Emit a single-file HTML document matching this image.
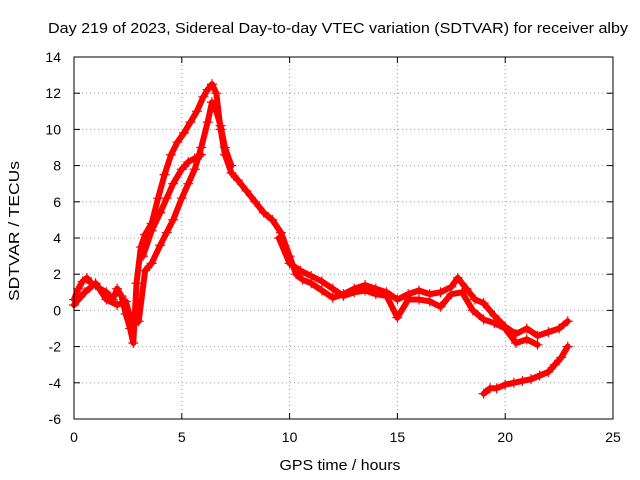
<!DOCTYPE html>
<html><head><meta charset="utf-8"><style>
body{margin:0;background:#fff;}
svg{display:block;font-family:"Liberation Sans",sans-serif;}
</style></head><body>
<svg id="chart" width="640" height="480" viewBox="0 0 640 480">
<rect width="640" height="480" fill="#fff"/>
<text x="338" y="33" font-size="15" text-anchor="middle" textLength="580" lengthAdjust="spacingAndGlyphs">Day 219 of 2023, Sidereal Day-to-day VTEC variation (SDTVAR) for receiver alby</text>
<g id="grid"></g>
<g id="series"></g>
<rect x="74" y="57" width="539" height="362" fill="none" stroke="#000" stroke-width="1"/>
<g id="ticks"></g>
<text x="340" y="470" font-size="15" text-anchor="middle" textLength="121" lengthAdjust="spacingAndGlyphs">GPS time / hours</text>
<text transform="translate(19,231) rotate(-90)" font-size="15" text-anchor="middle" textLength="140" lengthAdjust="spacingAndGlyphs">SDTVAR / TECUs</text>
</svg>
<script>
const xTicks=[0,5,10,15,20,25];
const yTicks=[-6,-4,-2,0,2,4,6,8,10,12,14];
const trackAT=[0,0.2,0.4,0.6,0.8,1,1.2,1.5,1.8,2,2.2,2.4,2.6,2.75,2.9,3.1,3.3,3.6,3.9,4.2,4.5,4.8,5.1,5.4,5.7,6,6.2,6.4,6.6,6.8,7,7.3,7.6,8,8.4,8.8,9.2,9.6,10,10.3,10.6,11,11.5,12,12.5,13,13.5,14,14.5,15,15.5,16,16.5,17,17.5,17.8,18.2,18.6,19,19.5,20,20.5,21,21.5,22,22.5,22.9];
const trackAV=[0.6,1.2,1.6,1.8,1.5,1.4,1.2,1.0,0.6,1.2,0.8,-0.2,-1.0,-1.8,1.5,3.5,4.2,4.8,6.2,7.5,8.6,9.3,9.8,10.4,11.0,11.8,12.2,12.5,12.0,10.0,8.6,7.6,7.2,6.6,6.0,5.4,5.0,4.3,3.0,2.0,1.7,1.5,1.1,0.7,0.9,1.2,1.4,1.2,1.0,0.6,0.9,1.1,0.9,1.0,1.3,1.8,1.2,0.6,0.4,-0.3,-0.9,-1.3,-1.0,-1.4,-1.2,-1.0,-0.6];
const trackBT=[0,0.5,1,1.5,2,2.4,2.7,3,3.3,3.6,4,4.3,4.6,5,5.3,5.6,5.9,6.2,6.4,6.6,6.8,7,7.3];
const trackBV=[0.3,1.0,1.5,0.6,0.3,0.5,-0.8,-0.6,2.2,2.6,3.6,4.3,5.0,6.2,7.0,7.8,9.0,10.4,11.5,11.0,10.2,9.0,8.0];
const trackCT=[3.2,3.6,4,4.3,4.6,5,5.3,5.6,5.9];
const trackCV=[3.0,4.4,5.4,6.2,7.0,7.8,8.2,8.4,8.6];
const trackDT=[9.5,10,10.5,11,11.5,12,12.5,13,13.5,14,14.5,15,15.5,16,16.5,17,17.5,18,18.5,19,19.5,20,20.5,21,21.5];
const trackDV=[4.0,2.6,2.2,1.9,1.6,1.2,0.8,1.0,1.1,0.9,0.8,-0.4,0.6,0.6,0.5,0.2,0.9,1.0,0.0,-0.5,-0.7,-1.0,-1.8,-1.6,-1.9];
const trackET=[19,19.3,19.6,20,20.4,20.8,21.2,21.6,22,22.3,22.6,22.9];
const trackEV=[-4.6,-4.3,-4.3,-4.1,-4.0,-3.9,-3.8,-3.6,-3.4,-3.0,-2.6,-2.0];
const X=v=>74+(v/25)*539, Y=v=>419-((v+6)/20)*362;
const NS="http://www.w3.org/2000/svg";
const grid=document.getElementById('grid'),ticks=document.getElementById('ticks'),ser=document.getElementById('series');
function mk(tag,attrs,parent){const e=document.createElementNS(NS,tag);for(const k in attrs)e.setAttribute(k,attrs[k]);parent.appendChild(e);return e;}
xTicks.forEach(t=>{
 if(t>0&&t<25){const g=mk('line',{x1:X(t),x2:X(t),y1:57,y2:419,stroke:'#a0a0a0','stroke-dasharray':'1,3'},grid);
 
 }
 mk('line',{x1:X(t),x2:X(t),y1:419,y2:413,stroke:'#000'},ticks);
 mk('line',{x1:X(t),x2:X(t),y1:57,y2:63,stroke:'#000'},ticks);
 const l=mk('text',{x:X(t),y:442,'font-size':14,'text-anchor':'middle'},ticks);l.textContent=t;
 
 
});
yTicks.forEach(t=>{
 if(t>-6&&t<14){const g=mk('line',{x1:74,x2:613,y1:Y(t),y2:Y(t),stroke:'#a0a0a0','stroke-dasharray':'1,3'},grid);
 
 }
 mk('line',{x1:74,x2:80,y1:Y(t),y2:Y(t),stroke:'#000'},ticks);
 mk('line',{x1:613,x2:607,y1:Y(t),y2:Y(t),stroke:'#000'},ticks);
 const l=mk('text',{x:61,y:Y(t)+5,'font-size':14,'text-anchor':'end'},ticks);l.textContent=t;
 
 
});
function track(T,V,name){
 const pts=T.map((t,i)=>X(t)+','+Y(V[i])).join(' ');
 const p=mk('polyline',{points:pts,fill:'none',stroke:'#f00','stroke-width':6,'stroke-linejoin':'round','stroke-linecap':'round'},ser);
 
 
 T.forEach((t,i)=>{const x=X(t),y=Y(V[i]);
  const m=mk('path',{d:`M${x-5},${y}H${x+5}M${x},${y-5}V${y+5}`,stroke:'#f00','stroke-width':1.2},ser);
  
  });
}
track(trackAT,trackAV,'track-a');
track(trackBT,trackBV,'track-b');
track(trackCT,trackCV,'track-c');
track(trackDT,trackDV,'track-d');
track(trackET,trackEV,'track-e');
</script>
</body></html>
